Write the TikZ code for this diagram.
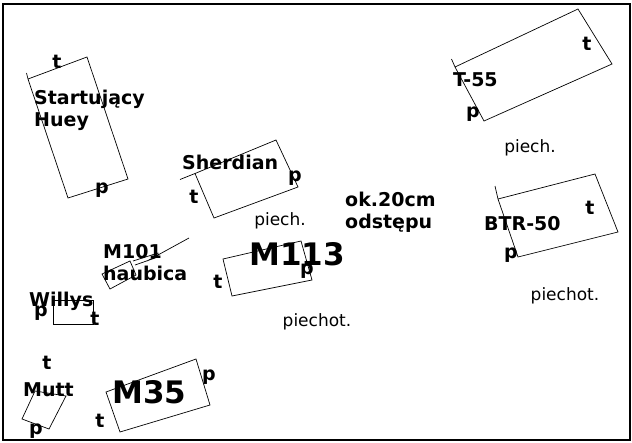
\documentclass[tikz,border=0pt]{standalone}
\usepackage{fontspec}
\setmainfont{DejaVu Sans}
\begin{document}
\begin{tikzpicture}[x=1pt, y=-1pt,
  veh/.style={draw, line width=.7pt},
  lbl/.style={inner sep=0pt, font=\bfseries\fontsize{19}{21.5}\selectfont},
  vname/.style={lbl, anchor=base west, align=left},
  big/.style={vname, font=\bfseries\fontsize{31}{36}\selectfont},
  note/.style={inner sep=0pt, font=\fontsize{17}{20}\selectfont}]
  \useasboundingbox (0,0) rectangle (632,442);
  \draw [line width=2pt] (2.5,4) rectangle (630,440);
  % vehicles
  \draw [veh] (28,79) coordinate (huey) -- (87,57) -- (128,179) -- (68,198) -- cycle (huey) -- (26.5,73);
  \draw [veh] (195,173.5) coordinate (sher) -- (276,140) -- (298,187) -- (214,218) -- cycle (sher) -- (180,179.5);
  \draw [veh] (223,259) -- (301,241) -- (312,280) -- (232,296) -- cycle;
  \draw [veh] (455,67) coordinate (t55) -- (578,9) -- (612,64) -- (484,121) -- cycle (t55) -- (451.5,59);
  \draw [veh] (498,199) coordinate (btr) -- (595,174) -- (618,232) -- (518,257) -- cycle (btr) -- (495,186);
  \draw [veh] (53,300) rectangle (93,324);
  \draw [veh] (22,419) -- (35,391) -- (66,396) -- (49,429) -- cycle;
  \draw [veh] (106,392) -- (196,359) -- (210,405) -- (120,432) -- cycle;
  % howitzer
  \draw [veh] (102,274) -- (130,261) -- (136,275) -- (110,289) -- cycle;
  \draw [veh] (133,261) -- (158,253) -- (158,257) -- (135,265) (147,261) -- (189,238);
  % names (multi-line ones sit on their last line)
  \node [vname] (huey-n) at (34,126) {Startujący\\Huey};
  \node [vname] (sher-n) at (182,169) {Sherdian};
  \node [vname] (m101-n) at (103,280) {M101\\haubica};
  \node [big] (m113-n) at (249,265) {M113};
  \node [vname] (willys-n) at (29,306) {Willys};
  \node [vname] (mutt-n) at (23,396) {Mutt};
  \node [big] (m35-n) at (112,403) {M35};
  \node [vname] (t55-n) at (453,86) {T-55};
  \node [vname] (btr-n) at (484,230) {BTR-50};
  \node [vname] (gap) at (345,228) {ok.20cm\\odstępu};
  % t / p marks
  \foreach \x/\y/\s [count=\i] in {57/62/t, 102/190/p, 295/178/p, 194/197/t,
      218/282/t, 307/271/p, 41/313/p, 95/319/t, 47/363/t, 36/431/p,
      209/377/p, 100/421/t, 587/44/t, 473/114/p, 590/208/t, 511/255/p}
    \node [lbl] (mark-\i) at (\x,\y) {\s};
  % infantry
  \node [note] (inf-1) at (280,221) {piech.};
  \node [note] (inf-2) at (530,148) {piech.};
  \node [note] (inf-3) at (317,322) {piechot.};
  \node [note] (inf-4) at (565,296) {piechot.};
\end{tikzpicture}
\end{document}
